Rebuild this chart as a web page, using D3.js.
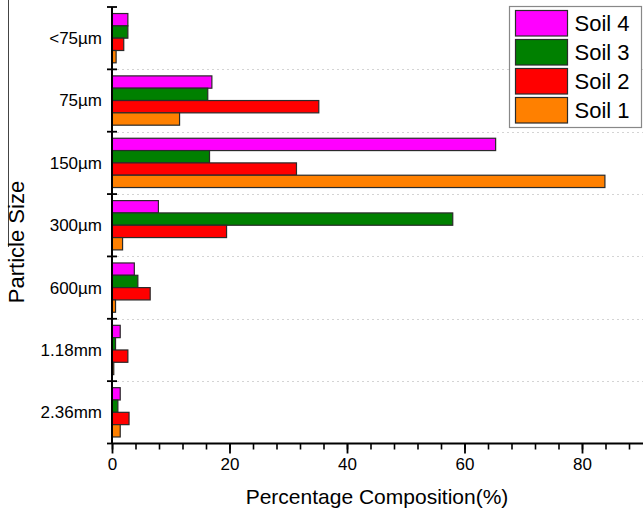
<!DOCTYPE html>
<html>
<head>
<meta charset="utf-8">
<script src="https://cdn.jsdelivr.net/npm/d3@7"></script>
<style>
  body { margin: 0; background: #fff; }
  svg { font-family: "Liberation Sans", Arial, sans-serif; }
</style>
</head>
<body>
<div id="chart"></div>
<script>
// particle size classes, top to bottom
const sizes = ["<75µm", "75µm", "150µm", "300µm", "600µm", "1.18mm", "2.36mm"];
// series, in drawing order inside each group (top to bottom)
const soils = ["Soil 4", "Soil 3", "Soil 2", "Soil 1"];
const colors = ["#ff00ff", "#008000", "#ff0000", "#ff8000"];

// percentage composition per size class
const soil4 = [2.7, 17.0, 65.3, 7.9, 3.8, 1.4, 1.4];
const soil3 = [2.7, 16.3, 16.6, 58.0, 4.4, 0.6, 1.0];
const soil2 = [2.0, 35.2, 31.4, 19.5, 6.5, 2.7, 2.9];
const soil1 = [0.7, 11.5, 83.9, 1.8, 0.6, 0.3, 1.4];

const xMajorTicks = [0, 20, 40, 60, 80];

const series = [soil4, soil3, soil2, soil1];

const W = 643, H = 515;
const margin = {top: 7, right: 2, bottom: 72, left: 112};

let svg = d3.select("#chart")
  .append("svg")
    .attr("width", W)
    .attr("height", H);

let x = d3.scaleLinear()
  .domain([0, 90])
  .range([margin.left, 640.75]);

let y = d3.scaleBand()
  .domain(sizes)
  .range([margin.top, H - margin.bottom + 0.5])
  .padding(0);

let ySub = d3.scaleBand()
  .domain(soils)
  .range([0, y.bandwidth()])
  .paddingInner(0)
  .paddingOuter(0.53);

// stray frame line on the left edge
svg.append("line")
  .attr("x1", 8.5).attr("x2", 8.5)
  .attr("y1", 0).attr("y2", 247)
  .attr("stroke", "#444")
  .attr("stroke-width", 1);

// dotted grid lines at group boundaries
svg.append("g")
  .selectAll("line")
  .data(sizes.slice(1))
  .join("line")
    .attr("x1", margin.left).attr("x2", W)
    .attr("y1", d => Math.round(y(d)) + 0.5)
    .attr("y2", d => Math.round(y(d)) + 0.5)
    .attr("stroke", "#d4d4d4")
    .attr("stroke-dasharray", "2,3");

// bars
let groups = svg.append("g")
  .selectAll("g")
  .data(sizes)
  .join("g")
    .attr("transform", d => "translate(0," + y(d) + ")");

groups.selectAll("rect")
  .data((d, i) => soils.map((s, j) => ({soil: s, value: series[j][i], color: colors[j]})))
  .join("rect")
    .attr("x", x(0))
    .attr("y", d => ySub(d.soil))
    .attr("width", d => x(d.value) - x(0))
    .attr("height", ySub.bandwidth())
    .attr("fill", d => d.color)
    .attr("stroke", "#2a2a2a")
    .attr("stroke-width", 1.2);

// x axis: minor ticks then major ticks with labels
let xAxisY = y.range()[1];
svg.append("g")
  .attr("transform", "translate(0," + xAxisY + ")")
  .call(d3.axisBottom(x).tickValues(d3.range(0, 91, 4)).tickSize(6).tickFormat(""))
  .call(g => g.select(".domain").remove())
  .call(g => g.selectAll("line").attr("stroke", "#000").attr("stroke-width", 1.6));

let xAxis = svg.append("g")
  .attr("transform", "translate(0," + xAxisY + ")")
  .call(d3.axisBottom(x).tickValues(xMajorTicks).tickSize(10).tickSizeOuter(0).tickPadding(4));
xAxis.select(".domain")
  .attr("d", "M" + x(0) + ",0H" + W)
  .attr("stroke-width", 2);
xAxis.selectAll("line").attr("stroke-width", 1.8);
xAxis.selectAll("text")
  .attr("font-size", 17)
  .attr("fill", "#000");

// y axis: line, crossing ticks at group boundaries, labels at centres
svg.append("line")
  .attr("x1", x(0)).attr("x2", x(0))
  .attr("y1", y.range()[0]).attr("y2", xAxisY)
  .attr("stroke", "#000")
  .attr("stroke-width", 2);

svg.append("g")
  .selectAll("line")
  .data(sizes.concat(["end"]))
  .join("line")
    .attr("x1", x(0) - 5).attr("x2", d => d === "end" ? x(0) : x(0) + 5)
    .attr("y1", d => d === "end" ? xAxisY : y(d))
    .attr("y2", d => d === "end" ? xAxisY : y(d))
    .attr("stroke", "#000")
    .attr("stroke-width", 1.8);

svg.append("g")
  .selectAll("text")
  .data(sizes)
  .join("text")
    .attr("x", x(0) - 10)
    .attr("y", d => y(d) + y.bandwidth() / 2)
    .attr("dy", "0.35em")
    .attr("text-anchor", "end")
    .attr("font-size", 17)
    .text(d => d);

// axis titles
svg.append("text")
  .attr("x", 377)
  .attr("y", 504)
  .attr("text-anchor", "middle")
  .attr("font-size", 21)
  .text("Percentage Composition(%)");

svg.append("text")
  .attr("transform", "translate(24,242) rotate(-90)")
  .attr("text-anchor", "middle")
  .attr("font-size", 22)
  .text("Particle Size");

// legend
let legend = svg.append("g").attr("transform", "translate(509.5,6.5)");
legend.append("rect")
  .attr("width", 132)
  .attr("height", 121)
  .attr("fill", "#fff")
  .attr("stroke", "#888")
  .attr("stroke-width", 1.2);

let items = legend.selectAll("g")
  .data(soils)
  .join("g")
    .attr("transform", (d, i) => "translate(6," + (4 + i * 29) + ")");
items.append("rect")
  .attr("width", 52)
  .attr("height", 25.5)
  .attr("fill", (d, i) => colors[i])
  .attr("stroke", "#2a2a2a")
  .attr("stroke-width", 1.2);
items.append("text")
  .attr("x", 59)
  .attr("y", 13)
  .attr("dy", "0.36em")
  .attr("font-size", 22)
  .text(d => d);
</script>
</body>
</html>
